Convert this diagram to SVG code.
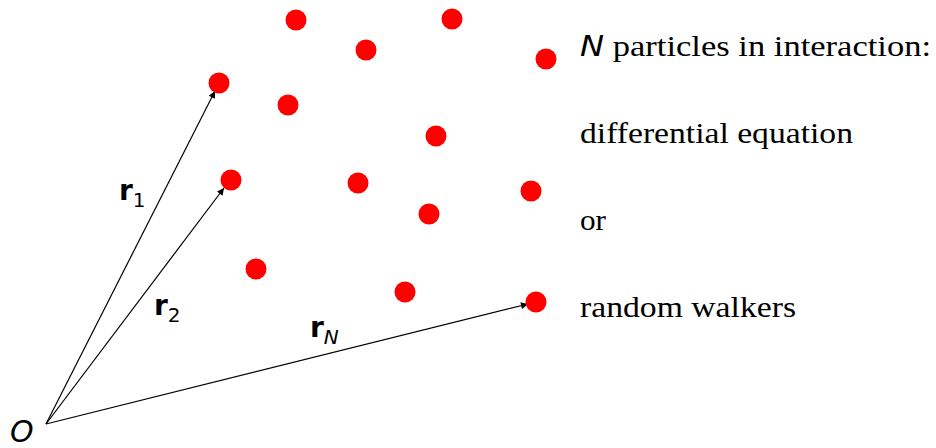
<svg xmlns="http://www.w3.org/2000/svg" width="936" height="448" viewBox="0 0 936 448">
<defs>
<marker id="ah" viewBox="0 0 10 10" refX="10" refY="5" markerWidth="9" markerHeight="7" markerUnits="userSpaceOnUse" orient="auto">
<path d="M0,0 L10,5 L0,10 Z" fill="#000"/>
</marker>
</defs>
<style>
.p{fill:#f00}
.v{stroke:#000;stroke-width:1.2;fill:none;marker-end:url(#ah)}
.t{font-family:"Liberation Serif","Times New Roman",serif;font-size:30px;fill:#000}
.m{font-family:"DejaVu Sans","Liberation Sans",sans-serif;fill:#000}
</style>
<g id="connectors">
<line class="v" x1="46" y1="424" x2="215" y2="91"/>
<line class="v" x1="46" y1="424" x2="224" y2="188"/>
<line class="v" x1="46" y1="424" x2="528" y2="304"/>
</g>
<g id="particles">
<circle class="p" cx="296" cy="20" r="10.5"/>
<circle class="p" cx="452" cy="19" r="10.5"/>
<circle class="p" cx="366" cy="50" r="10.5"/>
<circle class="p" cx="546" cy="59" r="10.5"/>
<circle class="p" cx="219" cy="83" r="10.5"/>
<circle class="p" cx="288" cy="105" r="10.5"/>
<circle class="p" cx="436" cy="136" r="10.5"/>
<circle class="p" cx="231" cy="180" r="10.5"/>
<circle class="p" cx="358" cy="183" r="10.5"/>
<circle class="p" cx="531" cy="191" r="10.5"/>
<circle class="p" cx="429" cy="214" r="10.5"/>
<circle class="p" cx="256" cy="269" r="10.5"/>
<circle class="p" cx="405" cy="292" r="10.5"/>
<circle class="p" cx="536" cy="302" r="10.5"/>
</g>
<g id="origin">
<text class="m" x="10" y="442" font-size="30" font-style="italic">O</text>
</g>
<g id="label-r1">
<text class="m" x="119" y="200" font-size="28" font-weight="bold">r<tspan font-size="20" font-weight="normal" dy="7">1</tspan></text>
</g>
<g id="label-r2">
<text class="m" x="154" y="315" font-size="28" font-weight="bold">r<tspan font-size="20" font-weight="normal" dy="7">2</tspan></text>
</g>
<g id="label-rN">
<text class="m" x="310" y="337" font-size="28" font-weight="bold">r<tspan font-size="20" font-weight="normal" font-style="italic" dy="7">N</tspan></text>
</g>
<g id="text">
<text class="t" x="580" y="56" textLength="351" lengthAdjust="spacingAndGlyphs"><tspan class="m" font-style="italic" font-size="28">N</tspan> particles in interaction:</text>
<text class="t" x="580" y="143" textLength="273" lengthAdjust="spacingAndGlyphs">differential equation</text>
<text class="t" x="580" y="230" textLength="26" lengthAdjust="spacingAndGlyphs">or</text>
<text class="t" x="580" y="317" textLength="216" lengthAdjust="spacingAndGlyphs">random walkers</text>
</g>
</svg>
